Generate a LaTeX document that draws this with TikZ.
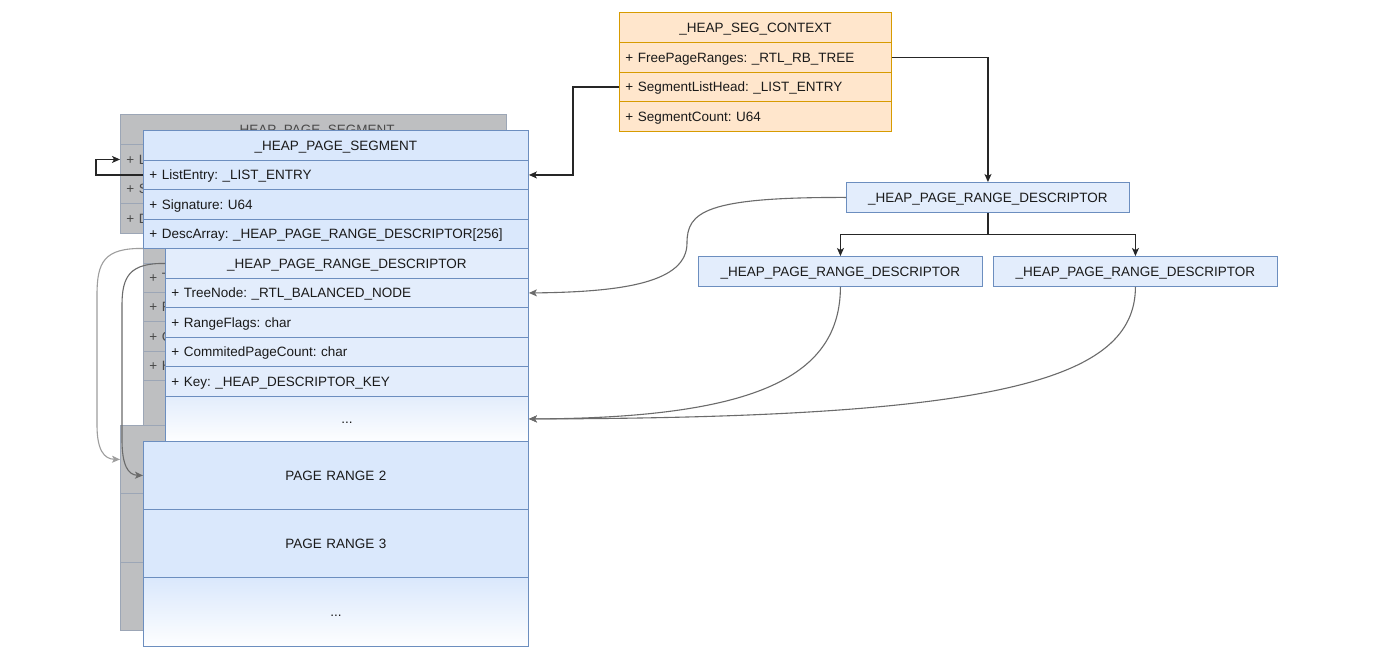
\documentclass[tikz,border=0pt]{standalone}
\usepackage{fontspec}
\setmainfont{Liberation Sans}
\frenchspacing
\usetikzlibrary{arrows.meta}
\definecolor{bfill}{HTML}{DAE8FC}
\definecolor{bdraw}{HTML}{6C8EBF}
\definecolor{dfill}{HTML}{E3EDFC}
\definecolor{ofill}{HTML}{FFE6CC}
\definecolor{odraw}{HTML}{D79B00}
\definecolor{gfill}{HTML}{BEBFC1}
\definecolor{gdraw}{HTML}{9CA6B6}
\definecolor{gtext}{HTML}{4A4A4A}
\definecolor{txt}{HTML}{1A1A1A}
\tikzset{
  boxrow/.style={draw=bdraw, fill=bfill, line width=0.9pt, rectangle, anchor=north west,
    inner xsep=6pt, inner ysep=0pt, text height=11pt, text depth=1.2pt, text=txt,
    font=\fontsize{13.5}{16}\selectfont},
  leftrow/.style={boxrow, align=left},
  ctrrow/.style={boxrow, align=center},
  descfill/.style={fill=dfill},
  grayfill/.style={fill=gfill, draw=gdraw, text=gtext},
  orangefill/.style={fill=ofill, draw=odraw},
  fadefill/.style={top color=bfill, bottom color=white!96!bfill},
  dfadefill/.style={top color=dfill, bottom color=white!96!bfill},
  conn/.style={line width=1.1pt, draw=black!85, -{Stealth[length=8pt,width=7pt,inset=2pt]}},
  gconn/.style={line width=1.1pt, draw=black!58, -{Stealth[length=8pt,width=7pt,inset=2pt]}},
  lconn/.style={line width=1.1pt, draw=black!38, -{Stealth[length=8pt,width=7pt,inset=2pt]}},
}
\begin{document}
\begin{tikzpicture}[x=1pt,y=-1pt]
\useasboundingbox (0,0) rectangle (1392,670);
\fill[white] (0,0) rectangle (1392,670);

% ---------- gray (background) copies ----------
\node[ctrrow,grayfill,minimum height=30pt,text width=374pt] (gs0) at (120,114) {\_HEAP\_PAGE\_SEGMENT};
\node[leftrow,grayfill,minimum height=30pt,text width=374pt] (gs1) at (120,144) {+ L};
\node[leftrow,grayfill,minimum height=29pt,text width=374pt] (gs2) at (120,174) {+ S};
\node[leftrow,grayfill,minimum height=30pt,text width=374pt] (gs3) at (120,203) {+ D};

\node[ctrrow,grayfill,minimum height=30pt,text width=351pt] (gd0) at (143,233) {};
\node[leftrow,grayfill,minimum height=29pt,text width=351pt] (gd1) at (143,263) {+ T};
\node[leftrow,grayfill,minimum height=29pt,text width=351pt] (gd2) at (143,292) {+ F};
\node[leftrow,grayfill,minimum height=30pt,text width=351pt] (gd3) at (143,321) {+ C};
\node[leftrow,grayfill,minimum height=29pt,text width=351pt] (gd4) at (143,351) {+ H};
\node[ctrrow,grayfill,minimum height=45pt,text width=351pt] (gd5) at (143,380) {};

\node[ctrrow,grayfill,minimum height=68pt,text width=374pt] (gp1) at (120,425) {};
\node[ctrrow,grayfill,minimum height=69pt,text width=374pt] (gp2) at (120,493) {};
\node[ctrrow,grayfill,minimum height=68pt,text width=374pt] (gp3) at (120,562) {};

% ---------- front _HEAP_PAGE_SEGMENT ----------
\node[ctrrow,minimum height=30pt,text width=373pt] (s0) at (143,130) {\_HEAP\_PAGE\_SEGMENT};
\node[leftrow,minimum height=29pt,text width=373pt] (s1) at (143,160) {+ ListEntry: \_LIST\_ENTRY};
\node[leftrow,minimum height=30pt,text width=373pt] (s2) at (143,189) {+ Signature: U64};
\node[leftrow,minimum height=29pt,text width=373pt] (s3) at (143,219) {+ DescArray: \_HEAP\_PAGE\_RANGE\_DESCRIPTOR[256]};

% ---------- front descriptor ----------
\node[ctrrow,descfill,minimum height=30pt,text width=351pt] (d0) at (165,248) {\_HEAP\_PAGE\_RANGE\_DESCRIPTOR};
\node[leftrow,descfill,minimum height=29pt,text width=351pt] (d1) at (165,278) {+ TreeNode: \_RTL\_BALANCED\_NODE};
\node[leftrow,descfill,minimum height=30pt,text width=351pt] (d2) at (165,307) {+ RangeFlags: char};
\node[leftrow,descfill,minimum height=29pt,text width=351pt] (d3) at (165,337) {+ CommitedPageCount: char};
\node[leftrow,descfill,minimum height=30pt,text width=351pt] (d4) at (165,366) {+ Key: \_HEAP\_DESCRIPTOR\_KEY};
\node[ctrrow,dfadefill,draw=bdraw,minimum height=45pt,text width=351pt] (d5) at (165,396) {...};

% ---------- front page ranges ----------
\node[ctrrow,minimum height=68pt,text width=373pt] (p1) at (143,441) {PAGE RANGE 2};
\node[ctrrow,minimum height=68pt,text width=373pt] (p2) at (143,509) {PAGE RANGE 3};
\node[ctrrow,fadefill,draw=bdraw,minimum height=69pt,text width=373pt] (p3) at (143,577) {...};

% ---------- _HEAP_SEG_CONTEXT ----------
\node[ctrrow,orangefill,minimum height=30pt,text width=260pt] (c0) at (619,12) {\_HEAP\_SEG\_CONTEXT};
\node[leftrow,orangefill,minimum height=30pt,text width=260pt] (c1) at (619,42) {+ FreePageRanges: \_RTL\_RB\_TREE};
\node[leftrow,orangefill,minimum height=29pt,text width=260pt] (c2) at (619,72) {+ SegmentListHead: \_LIST\_ENTRY};
\node[leftrow,orangefill,minimum height=30pt,text width=260pt] (c3) at (619,101) {+ SegmentCount: U64};

% ---------- tree of descriptors ----------
\node[ctrrow,descfill,minimum height=30pt,text width=271pt] (r0) at (846,182) {\_HEAP\_PAGE\_RANGE\_DESCRIPTOR};
\node[ctrrow,descfill,minimum height=30pt,text width=272pt] (r1) at (698,256) {\_HEAP\_PAGE\_RANGE\_DESCRIPTOR};
\node[ctrrow,descfill,minimum height=30pt,text width=272pt] (r2) at (993,256) {\_HEAP\_PAGE\_RANGE\_DESCRIPTOR};

% ---------- connectors ----------
\draw[conn] (c1.east) -| (r0.north);
\draw[conn] (c2.west) -- ++(-46,0) |- (s1.east);
\draw[conn] (r0.south) -- ++(0,22) -| (r1.north);
\draw[conn] (r0.south) -- ++(0,22) -| (r2.north);
\draw[conn] (s1.west) -- ++(-47,0) |- (gs1.west);

\draw[gconn] (r0.west) .. controls (705,197) and (687,212) .. (687,243)
  .. controls (687,282) and (625,292) .. (d1.east);
\draw[gconn] (r1.south) .. controls (840,375) and (760,418) .. (d5.east);
\draw[gconn] (r2.south) .. controls (1135,380) and (1000,418) .. (d5.east);

\draw[lconn] (gd0.west) .. controls (104,248) and (97,262) .. (97,295)
  -- (97,425) .. controls (97,450) and (104,459) .. (gp1.west);
\draw[gconn] (d0.west) .. controls (130,263) and (122,276) .. (122,305)
  -- (122,440) .. controls (122,465) and (128,475) .. (p1.west);
\end{tikzpicture}
\end{document}
